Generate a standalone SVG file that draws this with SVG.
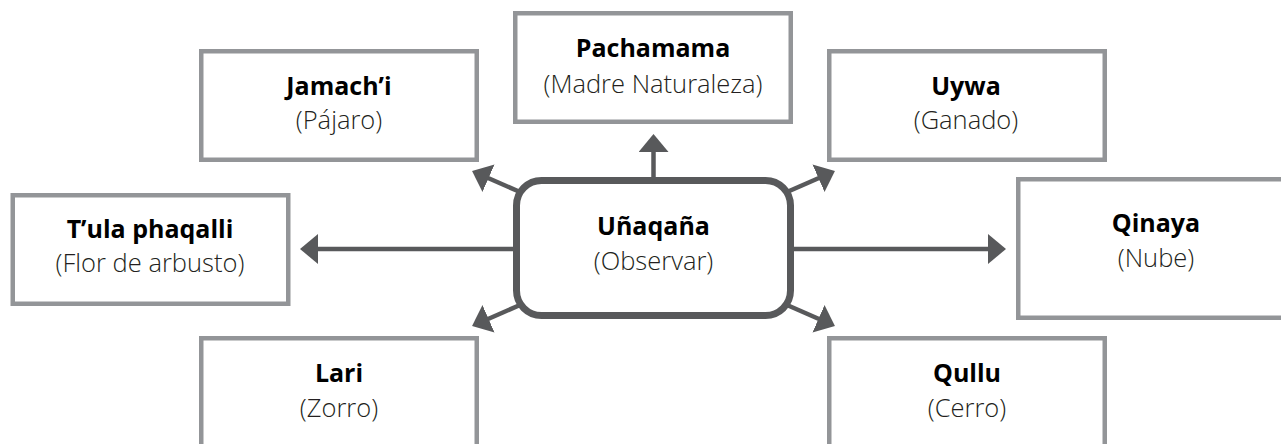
<svg xmlns="http://www.w3.org/2000/svg" width="1281" height="444" viewBox="0 0 1281 444">
<style>
.box{fill:#fff;stroke:#939598;stroke-width:4.5}
.core{fill:#fff;stroke:#58595b;stroke-width:7}
.t1{font-family:"Open Sans","Noto Sans",sans-serif;font-weight:700;font-size:25px;fill:#000;text-anchor:middle}
.t2{font-family:"Open Sans","Noto Sans",sans-serif;font-weight:300;font-size:25.5px;fill:#231f20;text-anchor:middle}
.arr{stroke:#58595b;stroke-width:4.5;fill:none;marker-end:url(#ah)}
</style>
<defs>
<marker id="ah" markerUnits="userSpaceOnUse" markerWidth="18" markerHeight="30" refX="8" refY="15" orient="auto" viewBox="0 0 18 30">
<path d="M0,0 L18,15 L0,30 Z" fill="#58595b"/>
</marker>
</defs>
<rect width="1281" height="444" fill="#fff"/>
<g id="connectors">
<line class="arr" x1="653.5" y1="178" x2="653.5" y2="144"/>
<line class="arr" x1="514" y1="249" x2="310" y2="249"/>
<line class="arr" x1="793" y1="249" x2="996" y2="249"/>
<line class="arr" x1="520" y1="192" x2="481.2" y2="175"/>
<line class="arr" x1="787" y1="192" x2="825.8" y2="175"/>
<line class="arr" x1="520" y1="305" x2="481.2" y2="322"/>
<line class="arr" x1="787" y1="305" x2="825.8" y2="322"/>
</g>
<g id="pachamama">
<rect class="box" x="515.25" y="13.25" width="275.5" height="108.5"/>
<text class="t1" x="653" y="57">Pachamama</text>
<text class="t2" x="653" y="93">(Madre Naturaleza)</text>
</g>
<g id="jamachi">
<rect class="box" x="201.25" y="51.25" width="275.5" height="108.5"/>
<text class="t1" x="339" y="95">Jamach’i</text>
<text class="t2" x="339" y="129">(Pájaro)</text>
</g>
<g id="uywa">
<rect class="box" x="829.25" y="51.25" width="275.5" height="108.5"/>
<text class="t1" x="966" y="94.5">Uywa</text>
<text class="t2" x="966" y="128.5">(Ganado)</text>
</g>
<g id="tula">
<rect class="box" x="12.75" y="195.25" width="275.5" height="108.5"/>
<text class="t1" x="150" y="237.5">T’ula phaqalli</text>
<text class="t2" x="150" y="272">(Flor de arbusto)</text>
</g>
<g id="qinaya">
<rect class="box" x="1018.25" y="179.25" width="275.5" height="138.5"/>
<text class="t1" x="1156" y="232">Qinaya</text>
<text class="t2" x="1156" y="266.5">(Nube)</text>
</g>
<g id="lari">
<rect class="box" x="201.25" y="338.25" width="275.5" height="140"/>
<text class="t1" x="339" y="382">Lari</text>
<text class="t2" x="339" y="416.5">(Zorro)</text>
</g>
<g id="qullu">
<rect class="box" x="829.25" y="338.25" width="275.5" height="140"/>
<text class="t1" x="967" y="382">Qullu</text>
<text class="t2" x="967" y="416.5">(Cerro)</text>
</g>
<g id="unaqana">
<rect class="core" x="516.5" y="180.5" width="274" height="135" rx="25"/>
<text class="t1" x="653.5" y="235">Uñaqaña</text>
<text class="t2" x="653.5" y="270">(Observar)</text>
</g>
</svg>
